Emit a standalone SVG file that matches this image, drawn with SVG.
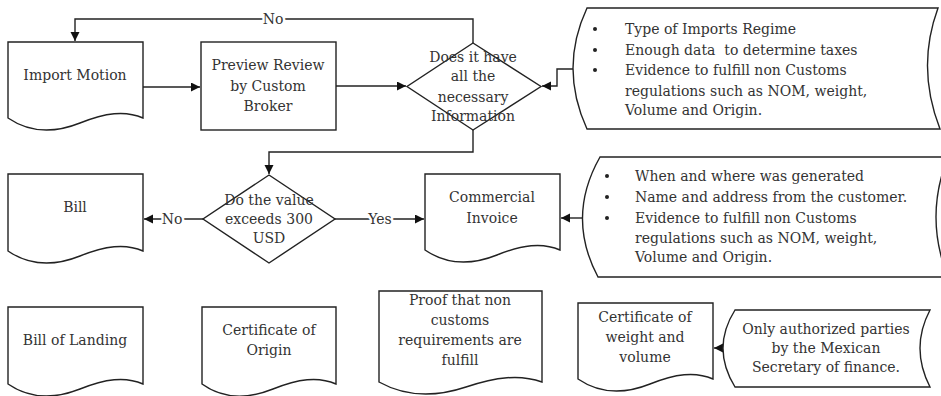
<svg xmlns="http://www.w3.org/2000/svg" width="941" height="396" viewBox="0 0 941 396">
  <style>
    .shape { fill: #fff; stroke: #222; stroke-width: 1.4; }
    .edge { fill: none; stroke: #222; stroke-width: 1.4; }
    text { font-family: "DejaVu Serif", "Liberation Serif", serif; font-size: 14px; fill: #333; }
    .c { text-anchor: middle; }
    .lbl { text-anchor: middle; stroke: #fff; stroke-width: 5; paint-order: stroke; }
    .dot { fill: #222; }
  </style>
  <defs>
    <marker id="arrow" markerUnits="userSpaceOnUse" markerWidth="10" markerHeight="10" refX="9" refY="4.5" orient="auto">
      <path d="M0,0 L9,4.5 L0,9 Z" fill="#111"/>
    </marker>
  </defs>
  <rect width="941" height="396" fill="#fff"/>

  <!-- connectors -->
  <g id="connectors">
    <path class="edge" d="M143,87 H200" marker-end="url(#arrow)"/>
    <path class="edge" d="M336,86 H406" marker-end="url(#arrow)"/>
    <path class="edge" d="M573,69 H557 V86 H542" marker-end="url(#arrow)"/>
    <path class="edge" d="M473,43 V19 H75 V41" marker-end="url(#arrow)"/>
    <text class="lbl" x="273" y="24">No</text>
    <path class="edge" d="M473,130 V152 H269 V174" marker-end="url(#arrow)"/>
    <path class="edge" d="M203,219 H144" marker-end="url(#arrow)"/>
    <text class="lbl" x="172" y="224">No</text>
    <path class="edge" d="M335,219 H424" marker-end="url(#arrow)"/>
    <text class="lbl" x="380" y="224">Yes</text>
    <path class="edge" d="M583,218 H561" marker-end="url(#arrow)"/>
    <path class="edge" d="M723,348 H714" marker-end="url(#arrow)"/>
  </g>

  <!-- top row -->
  <g id="import-motion">
    <path class="shape" d="M8,42 H143 V118 c-18,-8 -38,-5 -63,5 c-25,10 -50,10 -72,-5 Z"/>
    <text class="c" x="75" y="80">Import Motion</text>
  </g>
  <g id="preview-review">
    <rect class="shape" x="201" y="42" width="135" height="88"/>
    <text class="c" x="268" y="70">Preview Review</text>
    <text class="c" x="268" y="91">by Custom</text>
    <text class="c" x="268" y="111">Broker</text>
  </g>
  <g id="has-information">
    <path class="shape" d="M473,43 L541,86.5 L473,130 L407,86.5 Z"/>
    <text class="c" x="473" y="62">Does it have</text>
    <text class="c" x="473" y="81">all the</text>
    <text class="c" x="473" y="102">necessary</text>
    <text class="c" x="473" y="121">Information</text>
  </g>
  <g id="import-requirements">
    <path class="shape" d="M587,8 H938 Q916,68 940,129 H587 Q559,68 587,8 Z"/>
    <circle class="dot" cx="595" cy="29" r="2"/>
    <circle class="dot" cx="595" cy="50" r="2"/>
    <circle class="dot" cx="595" cy="70" r="2"/>
    <text x="625" y="34">Type of Imports Regime</text>
    <text x="625" y="55" xml:space="preserve">Enough data  to determine taxes</text>
    <text x="625" y="75">Evidence to fulfill non Customs</text>
    <text x="625" y="96">regulations such as NOM, weight,</text>
    <text x="625" y="115">Volume and Origin.</text>
  </g>

  <!-- middle row -->
  <g id="bill">
    <path class="shape" d="M8,174 H143 V251 c-18,-8 -38,-5 -63,5 c-25,10 -50,10 -72,-5 Z"/>
    <text class="c" x="75" y="212">Bill</text>
  </g>
  <g id="value-check">
    <path class="shape" d="M269,175 L335,219 L269,263 L203,219 Z"/>
    <text class="c" x="269" y="205">Do the value</text>
    <text class="c" x="269" y="224">exceeds 300</text>
    <text class="c" x="269" y="243">USD</text>
  </g>
  <g id="commercial-invoice">
    <path class="shape" d="M425,174 H560 V250 c-18,-8 -38,-5 -63,5 c-25,10 -50,10 -72,-5 Z"/>
    <text class="c" x="492" y="202">Commercial</text>
    <text class="c" x="492" y="223">Invoice</text>
  </g>
  <g id="invoice-requirements">
    <path class="shape" d="M600,157 H948 Q924,217 948,277 H598 Q566,217 600,157 Z"/>
    <circle class="dot" cx="607" cy="176" r="2"/>
    <circle class="dot" cx="607" cy="197" r="2"/>
    <circle class="dot" cx="607" cy="218" r="2"/>
    <text x="635" y="181">When and where was generated</text>
    <text x="635" y="202">Name and address from the customer.</text>
    <text x="635" y="223">Evidence to fulfill non Customs</text>
    <text x="635" y="243">regulations such as NOM, weight,</text>
    <text x="635" y="262">Volume and Origin.</text>
  </g>

  <!-- bottom row -->
  <g id="bill-of-landing">
    <path class="shape" d="M8,307 H143 V384 c-18,-8 -38,-5 -63,5 c-25,10 -50,10 -72,-5 Z"/>
    <text class="c" x="75" y="345">Bill of Landing</text>
  </g>
  <g id="certificate-of-origin">
    <path class="shape" d="M202,307 H336 V384 c-18,-8 -38,-5 -63,5 c-25,10 -50,10 -71,-5 Z"/>
    <text class="c" x="269" y="335">Certificate of</text>
    <text class="c" x="269" y="355">Origin</text>
  </g>
  <g id="proof-non-customs">
    <path class="shape" d="M379,291 H542 V382 c-22,-8 -46,-5 -76,5 c-30,10 -60,10 -87,-5 Z"/>
    <text class="c" x="460" y="305">Proof that non</text>
    <text class="c" x="460" y="325">customs</text>
    <text class="c" x="460" y="345">requirements are</text>
    <text class="c" x="460" y="365">fulfill</text>
  </g>
  <g id="certificate-weight-volume">
    <path class="shape" d="M578,303 H713 V379 c-18,-8 -38,-5 -63,5 c-25,10 -50,10 -72,-5 Z"/>
    <text class="c" x="645" y="322">Certificate of</text>
    <text class="c" x="645" y="342">weight and</text>
    <text class="c" x="645" y="362">volume</text>
  </g>
  <g id="authorized-parties">
    <path class="shape" d="M735,310 H930 Q910,348 930,387 H735 Q711,348 735,310 Z"/>
    <text class="c" x="826" y="334">Only authorized parties</text>
    <text class="c" x="826" y="353">by the Mexican</text>
    <text class="c" x="826" y="372">Secretary of finance.</text>
  </g>
</svg>
